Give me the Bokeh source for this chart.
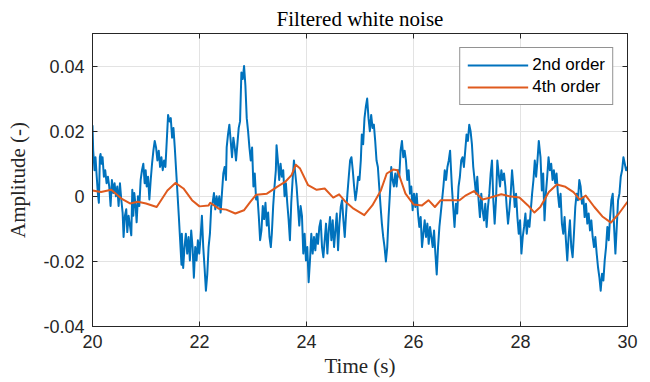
import numpy as np
from bokeh.plotting import figure
from bokeh.models import LinearAxis, FixedTicker, NumeralTickFormatter, Range1d
from bokeh.embed import file_html
from bokeh.resources import INLINE

# ---------------- data (amplitudes in units of 1e-3) ----------------
segA_t = [20.000, 20.013, 20.038, 20.056, 20.075, 20.100, 20.119, 20.138, 20.150, 20.169,
          20.188, 20.213, 20.238, 20.263, 20.288, 20.313, 20.338, 20.363, 20.388, 20.413,
          20.438, 20.463, 20.488, 20.513, 20.538, 20.563, 20.581, 20.606, 20.631, 20.650,
          20.675, 20.700, 20.725, 20.744, 20.763, 20.781, 20.806, 20.825, 20.850, 20.875,
          20.900, 20.925, 20.950, 20.975, 20.994, 21.013, 21.038, 21.063, 21.088, 21.113,
          21.138, 21.163, 21.188, 21.213, 21.238, 21.263, 21.288, 21.313, 21.338, 21.363,
          21.388, 21.413, 21.438, 21.463, 21.488, 21.513, 21.538, 21.563, 21.588, 21.613,
          21.638, 21.663]
segA_v = [21.8, 14, 8, 12, 7, 1, -2, 12, 13, 10,
          12, 6, 8, 4, 6, 3, -3, 5, 1, 4,
          0, 3, -3, 4, -1, -5, -12.5, -6, -4, -11,
          -6, -9, -12, 2, -6, 1, -3, -8, 0, -3,
          5, 8, 10, 4, 8, 3, 6, -1, 5, 10,
          14, 17, 15, 11, 14, 9, 12, 8, 11, 9,
          17, 25, 23, 24, 18, 21, 15, 8, 1, -6,
          -13.5, -21]

segB_t = [21.670, 21.695, 21.720, 21.745, 21.770, 21.795, 21.820, 21.845, 21.870, 21.895,
          21.920, 21.945, 21.970, 21.995, 22.020, 22.045, 22.070, 22.095, 22.120, 22.145,
          22.170, 22.195, 22.220, 22.245, 22.270, 22.295, 22.320, 22.345, 22.370, 22.395,
          22.420, 22.445, 22.470, 22.495,
          22.508, 22.533, 22.558, 22.583, 22.608, 22.633, 22.658, 22.683, 22.708, 22.733,
          22.758, 22.783, 22.808, 22.833, 22.858, 22.883, 22.908, 22.933, 22.958, 22.983,
          23.008, 23.033, 23.058, 23.083, 23.108, 23.133, 23.158, 23.183, 23.208, 23.233,
          23.258, 23.283, 23.308, 23.333]
segB_v = [-11.5, -22, -15.6, -11.5, -17.6, -12.5, -19.7, -10.5, -15.6, -25,
          -15.6, -19.7, -13.5, -17.6, -12.5, -6, -15.6, -22, -29, -24,
          -15.6, -11.5, -3, -2, 1, -4, 0, -3, 0, -5,
          1, 7, 9, 5,
          15, 19, 22, 17, 12, 18, 15, 11, 16, 21,
          23, 38, 36, 40, 34, 24, 20, 15, 11, 15,
          3, 7, -1, 0, -6, -13.5, -10.5, -3, -7, -2,
          -9, -5, -12.5, -15.6]

segC_t = [23.352, 23.377, 23.402, 23.427, 23.440,
          23.465, 23.490, 23.515, 23.540, 23.565, 23.590, 23.615, 23.640, 23.665, 23.690,
          23.715, 23.740, 23.765, 23.790, 23.815, 23.840, 23.865, 23.890, 23.915, 23.940,
          23.965, 23.990, 24.015, 24.040, 24.065, 24.090, 24.115, 24.140, 24.165, 24.190,
          24.215, 24.240, 24.265, 24.290, 24.315, 24.340, 24.365, 24.390, 24.415, 24.440,
          24.465, 24.490, 24.515, 24.540, 24.565, 24.590, 24.615, 24.640, 24.665, 24.690,
          24.715, 24.740, 24.765, 24.790, 24.815, 24.840, 24.865, 24.890, 24.915, 24.940,
          24.965, 24.990, 25.015]
segC_v = [-11.5, -3, 3, 8, 15.7,
          11, 5, 10, 6, 8, 0, 4, -2, -7, -13.5,
          -2, 5, 11, 7, 3, -3, -9, -3, -6, -17.6,
          -11.5, -19.7, -15.6, -26.4, -19.7, -11.5, -17.6, -12.5, -16.6, -11.5,
          -14.6, -9.4, -7.4, -15.6, -18.7, -13.5, -8.4, -17.6, -10.5, -6.4,
          -13.5, -7.4, -15.6, -10.5, -5.3, -16.6, -8.4, -3.3, -1.2, -7.4,
          -12.5, -5.3, 0.8, 6, 11, 12, 8, 3, -1.2, 1.8,
          6, 5, 11]

segD_t = [25.034, 25.059, 25.084, 25.109, 25.134, 25.159, 25.184, 25.209, 25.234, 25.259,
          25.284, 25.309, 25.334, 25.359, 25.384, 25.409, 25.434, 25.459, 25.484, 25.509,
          25.534, 25.559, 25.584, 25.609, 25.634, 25.659, 25.684, 25.709, 25.734, 25.759,
          25.784, 25.809, 25.834, 25.859, 25.884, 25.909, 25.934, 25.959, 25.984, 26.009,
          26.034, 26.059, 26.084, 26.109, 26.134, 26.159, 26.184, 26.209, 26.234, 26.259,
          26.284, 26.309, 26.334, 26.359, 26.384, 26.409, 26.434, 26.459, 26.484, 26.509,
          26.534, 26.559, 26.584, 26.609, 26.634, 26.659, 26.684]
segD_v = [19, 16, 24, 27.5, 30, 24, 20, 25, 21, 22,
          17, 11, 9, 3, -3, -8.4, -12.5, -15.6, -20, -15.6,
          -6.4, 0.8, 9, 5, 3, 7, 3, 8, 6, 14,
          17, 12, 14, 11, 5, 8, 0.8, 3, -4.3, 0.8,
          -3.3, 0.8, -5.3, -9.4, -6.4, -15.6, -11.5, -7.4, -12.5, -8.4,
          -14.6, -9.4, -12.5, -15.6, -10.5, -17.6, -24, -15.6, -9.4, -5.3,
          -1.2, 3, 8, 5, 9, 11, 14]

segE_t = [26.717, 26.742, 26.767, 26.792, 26.817, 26.842, 26.867, 26.892, 26.917, 26.942,
          26.967, 26.992, 27.017, 27.042, 27.067, 27.092, 27.117, 27.142, 27.167, 27.192,
          27.217, 27.242, 27.267, 27.292, 27.317, 27.342, 27.367, 27.392, 27.417, 27.442,
          27.467, 27.492, 27.517, 27.542, 27.567, 27.592, 27.617, 27.642, 27.667, 27.692,
          27.717, 27.742, 27.767, 27.792, 27.817, 27.842, 27.867, 27.892, 27.917, 27.942,
          27.967, 27.992, 28.017, 28.042, 28.067, 28.092, 28.117, 28.142, 28.167, 28.192,
          28.217, 28.242, 28.267, 28.292, 28.317, 28.342, 28.367]
segE_v = [3, -3.3, -9.4, -2.3, -5.3, 3, 6, 11, 12, 9,
          14, 19, 17, 22, 20, 16, 9, 5, 0.8, 6,
          -1.2, -6.4, 0.8, -4.3, -7.4, -2.3, -9.4, -3.3, 0.8, 7,
          11, -1.2, -8.4, -1.2, 11, 7, 3, 8, 5, 7,
          3, -3.3, -8.4, -4.3, 0.8, 8, 3, -3.3, 0.8, -6.4,
          -11.5, -7.4, -17.6, -12.5, -9.4, -5.3, -11.5, -7.4, -9.4, -4.3,
          0.8, 5, 11, 6, 11, 17, 13]

segF_t = [28.374, 28.399, 28.424, 28.449, 28.474, 28.499, 28.524, 28.549, 28.574, 28.599,
          28.624, 28.649, 28.674, 28.699, 28.724, 28.749, 28.774, 28.799, 28.824, 28.849,
          28.874, 28.899, 28.924, 28.949, 28.974, 28.999, 29.024, 29.049, 29.074, 29.099,
          29.124, 29.149, 29.174, 29.199, 29.224, 29.249, 29.274, 29.299, 29.324, 29.349,
          29.374, 29.399, 29.424, 29.449, 29.474, 29.499, 29.524, 29.549, 29.574, 29.599,
          29.624, 29.649, 29.674, 29.699, 29.724, 29.749, 29.774, 29.799, 29.824, 29.849,
          29.874, 29.899, 29.924, 29.949, 29.974, 30.000]
segF_v = [12, 1.8, 7, -7.4, 0.8, 6, 12, 8, 10, 5,
          8, 4, 7, 0.8, -3.3, 0.8, -8.4, -11.5, -6.4, -13.5,
          -19.7, -12.5, -7.4, -15.6, -18.7, -11.5, -3.3, 0.8, -1.2, 5,
          3, -2.3, -0.2, -6.4, -2.3, -8.4, -5.3, -10.5, -7.4, -12.5,
          -15.6, -12.5, -17.6, -21.8, -24.8, -29, -23.8, -25.9, -19.7, -15.6,
          -9.4, -13.5, -6.4, -1.2, 0.8, -9.4, -17.6, -9.4, -1.2, 0.8,
          6, 8, 12, 10, 8, 9]

order4_t = [20.00, 20.16, 20.35, 20.54, 20.70, 20.85, 21.00, 21.20, 21.40, 21.55,
            21.70, 21.86, 22.00, 22.17, 22.20, 22.36, 22.50, 22.67, 22.83, 22.95,
            23.06, 23.26, 23.45, 23.60, 23.72, 23.80, 23.88, 24.03, 24.19, 24.34,
            24.50, 24.61, 24.73, 24.88, 25.08, 25.23, 25.39, 25.50, 25.62, 25.70,
            25.85, 26.00, 26.16, 26.28, 26.40, 26.51, 26.70, 26.86, 26.98, 27.13,
            27.29, 27.44, 27.64, 27.79, 27.98, 28.14, 28.26, 28.37, 28.53, 28.68,
            28.84, 28.99, 29.11, 29.22, 29.38, 29.53, 29.69, 29.84, 30.00]
order4_v = [1.8, 1.3, 2, -0.7, -2.2, -1.7, -2.2, -3.3, 1.8, 4.1,
            2.4, -1.2, -3.1, -2.8, -2, -3.8, -4.1, -5.3, -4.3, -1.7,
            0.5, 0.8, 2.9, 4.4, 6.5, 9.7, 8.5, 3.4, 2, 2.4,
            -0.4, 0.6, -1.7, -3.8, -5.8, -2.8, 1.8, 7, 8.2, 8,
            0.8, -2.5, -2.8, -1.2, -3.3, -1.2, -1.2, -1.2, 0.3, 1.6,
            -1, -0.4, 0.6, 0, -0.4, -2.8, -5, -3.3, 1.3, 3.6,
            2.9, 1.3, -1, 0.2, -3.3, -6.2, -8.1, -5.3, -1.7]

x_ticks = [20, 22, 24, 26, 28, 30]
y_ticks = [-0.04, -0.02, 0, 0.02, 0.04]
SCALE = 1e-3

# ---------------- assemble ----------------
order2_t, order2_v = [], []
for ts, vs in [(segA_t, segA_v), (segB_t, segB_v), (segC_t, segC_v),
               (segD_t, segD_v), (segE_t, segE_v), (segF_t, segF_v)]:
    for t, v in zip(ts, vs):
        order2_t.append(t)
        order2_v.append(v * SCALE)
o4_v = [v * SCALE for v in order4_v]

BLUE = "#0072BD"
ORANGE = "#DF5A1E"
AX = "#262626"
SANS = "Liberation Sans"
SERIF = "Liberation Serif"

p = figure(width=650, height=382, output_backend="svg", toolbar_location=None,
           x_range=Range1d(20, 30), y_range=Range1d(-0.04, 0.05),
           min_border_left=92, min_border_right=23, min_border_top=33,
           min_border_bottom=56, background_fill_color="white",
           border_fill_color="white")

p.title.text = "Filtered white noise"
p.title.align = "center"
p.title.text_font = SERIF
p.title.text_font_size = "21px"
p.title.text_font_style = "normal"
p.title.text_color = "#000000"
p.title.standoff = 6

p.line(order2_t, order2_v, line_color=BLUE, line_width=2, line_join="round",
       legend_label="2nd order")
p.line(order4_t, o4_v, line_color=ORANGE, line_width=2, line_join="round",
       legend_label="4th order")

def style_axis(ax, show_labels):
    ax.axis_line_color = AX
    ax.axis_line_width = 1
    ax.major_tick_line_color = AX
    ax.major_tick_in = 5
    ax.major_tick_out = 0
    ax.minor_tick_line_color = None
    if show_labels:
        ax.major_label_text_font = SANS
        ax.major_label_text_font_size = "18px"
        ax.major_label_text_color = AX
        ax.axis_label_text_font = SERIF
        ax.axis_label_text_font_size = "21px"
        ax.axis_label_text_font_style = "normal"
        ax.axis_label_text_color = AX
    else:
        ax.major_label_text_font_size = "1px"
        ax.major_label_text_color = None
        ax.major_label_standoff = 0

xb = p.xaxis[0]
yl = p.yaxis[0]
xb.ticker = FixedTicker(ticks=x_ticks)
yl.ticker = FixedTicker(ticks=y_ticks)
yl.formatter = NumeralTickFormatter(format="0.[00]")
style_axis(xb, True)
style_axis(yl, True)
xb.axis_label = "Time (s)"
yl.axis_label = "Amplitude (-)"
xb.major_label_standoff = 8
xb.axis_label_standoff = 3
yl.major_label_standoff = 8
yl.axis_label_standoff = 10

xt = LinearAxis(ticker=FixedTicker(ticks=x_ticks))
yr = LinearAxis(ticker=FixedTicker(ticks=y_ticks))
style_axis(xt, False)
style_axis(yr, False)
p.add_layout(xt, "above")
p.add_layout(yr, "right")

p.xgrid.grid_line_color = "#e3e3e3"
p.ygrid.grid_line_color = "#e3e3e3"
p.xgrid.ticker = FixedTicker(ticks=x_ticks)
p.ygrid.ticker = FixedTicker(ticks=y_ticks)
p.outline_line_color = AX

lg = p.legend[0]
lg.location = "top_right"
lg.margin = 14
lg.padding = 7
lg.spacing = 2
lg.glyph_width = 61
lg.glyph_height = 20
lg.label_height = 20
lg.label_standoff = 4
lg.label_text_font = SANS
lg.label_text_font_size = "17px"
lg.label_text_color = "#000000"
lg.border_line_color = AX
lg.border_line_width = 1
lg.background_fill_alpha = 1

open("out.html", "w").write(file_html(p, INLINE))
